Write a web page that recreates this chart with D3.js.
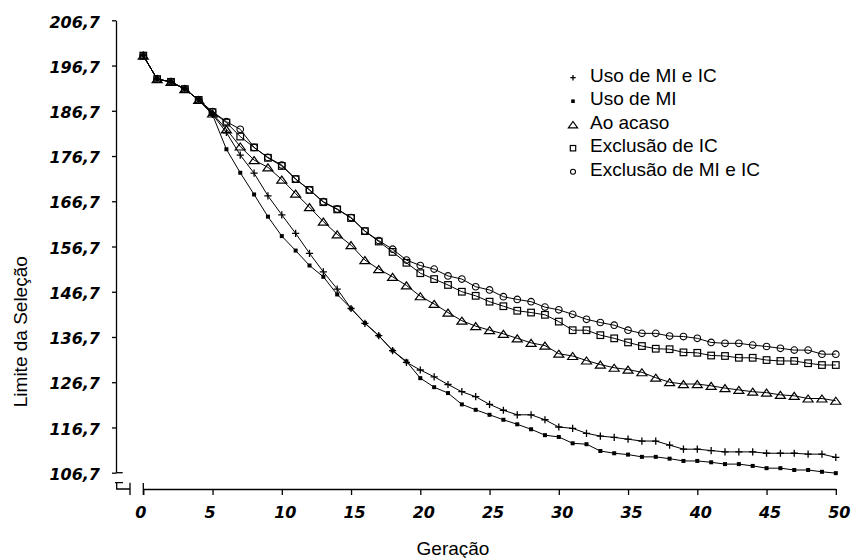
<!DOCTYPE html>
<html>
<head>
<meta charset="utf-8">
<script src="https://cdn.jsdelivr.net/npm/d3@7"></script>
<style>
  body { margin: 0; background: #fff; }
  svg { display: block; }
</style>
</head>
<body>
<div id="chart"></div>
<script>
// Generations on the x axis
const generations = d3.range(0, 51);

// Series values (Limite da Seleção per generation)
const usoMIeIC = [198.9, 193.7, 193.1, 191.5, 189.1, 185.9, 181.9, 176.9, 172.9, 167.9,
  163.7, 159.6, 155.2, 151.1, 147.3, 143.0, 139.7, 137.0, 133.7, 131.1,
  129.4, 127.9, 126.2, 124.6, 123.5, 121.8, 120.5, 119.5, 119.5, 118.4,
  116.8, 116.5, 115.4, 114.8, 114.5, 114.1, 113.7, 113.7, 112.8, 111.9,
  111.9, 111.6, 111.3, 111.3, 111.3, 111.0, 111.0, 111.0, 110.8, 110.8, 110.1];

const usoMI = [198.9, 193.7, 193.1, 191.5, 189.1, 185.8, 178.2, 173.0, 168.2, 163.3,
  159.0, 155.8, 152.5, 150.0, 146.1, 143.0, 139.8, 137.0, 133.7, 131.3,
  127.6, 125.6, 124.3, 121.8, 120.6, 119.5, 118.4, 117.4, 116.3, 115.0,
  114.6, 113.2, 113.0, 111.5, 111.0, 110.7, 110.2, 110.2, 109.8, 109.3,
  109.3, 109.0, 108.6, 108.6, 108.2, 107.7, 107.7, 107.3, 107.3, 106.9, 106.6];

const aoAcaso = [198.9, 193.7, 193.1, 191.5, 189.1, 186.1, 182.6, 178.8, 175.8, 174.2,
  171.5, 168.4, 165.4, 162.2, 159.4, 157.0, 153.7, 151.7, 150.0, 148.1,
  145.7, 144.0, 142.1, 140.3, 139.1, 138.2, 137.4, 136.4, 135.4, 134.8,
  133.0, 132.5, 131.5, 130.6, 129.9, 129.5, 128.9, 127.7, 126.7, 126.3,
  126.3, 125.9, 125.4, 125.0, 124.6, 124.4, 123.9, 123.7, 123.1, 123.1, 122.6];

const exclusaoIC = [198.9, 193.7, 193.1, 191.5, 189.1, 186.4, 184.1, 181.0, 178.6, 176.3,
  174.5, 171.6, 169.2, 166.5, 164.9, 163.0, 160.1, 157.8, 155.5, 153.1,
  150.8, 149.5, 148.2, 146.7, 145.8, 144.5, 143.5, 142.5, 142.1, 141.6,
  140.1, 138.2, 138.2, 137.1, 136.4, 135.5, 134.7, 134.1, 134.0, 133.3,
  133.2, 132.6, 132.5, 132.1, 132.1, 131.6, 131.4, 131.4, 130.9, 130.5, 130.5];

const exclusaoMIeIC = [198.9, 193.7, 193.1, 191.5, 189.1, 186.5, 184.3, 182.6, 178.6, 176.4,
  174.7, 171.6, 169.2, 166.6, 165.0, 163.1, 160.1, 158.0, 156.1, 153.7,
  152.5, 151.7, 150.2, 149.5, 147.8, 147.1, 145.6, 145.0, 144.5, 143.3,
  142.7, 141.7, 140.6, 139.9, 139.3, 138.2, 137.5, 137.5, 136.9, 136.8,
  136.4, 135.5, 135.3, 135.3, 134.9, 134.6, 134.2, 133.8, 133.8, 132.9, 132.9];

const seriesNames = ['Uso de MI e IC', 'Uso de MI', 'Ao acaso', 'Exclusão de IC', 'Exclusão de MI e IC'];
const seriesValues = [usoMIeIC, usoMI, aoAcaso, exclusaoIC, exclusaoMIeIC];
const markerTypes = ['plus', 'dot', 'triangle', 'square', 'circle'];

// Tick labels
const xTicks = [0, 5, 10, 15, 20, 25, 30, 35, 40, 45, 50];
const yTicks = [106.7, 116.7, 126.7, 136.7, 146.7, 156.7, 166.7, 176.7, 186.7, 196.7, 206.7];

const width = 853;
const height = 558;
const plot = { left: 143.3, right: 835.8, top: 20.3, bottom: 472.7 };
const yAxisX = 116;
const xAxisY = 489;
const tickFont = "'DejaVu Sans', Verdana, sans-serif";
const labelFont = "'Liberation Sans', Arial, sans-serif";

const svg = d3.select('#chart')
  .append('svg')
  .attr('width', width)
  .attr('height', height)
  .style('background', '#fff');

const xscale = d3.scaleLinear().domain([0, 50]).range([plot.left, plot.right]);
const yscale = d3.scaleLinear().domain([106.7, 206.7]).range([plot.bottom, plot.top]);

// Draw one marker of a given type centred at 0,0 of group g
function drawMarker(g, type, s) {
  if (type === 'plus') {
    g.append('path')
      .attr('d', `M${-s},0H${s}M0,${-s}V${s}`)
      .attr('stroke', '#000').attr('stroke-width', 1.3).attr('fill', 'none');
  } else if (type === 'dot') {
    g.append('rect')
      .attr('x', -s / 2).attr('y', -s / 2).attr('width', s).attr('height', s)
      .attr('fill', '#000');
  } else if (type === 'triangle') {
    g.append('path')
      .attr('d', `M0,${-s * 0.7}L${s},${s * 0.7}L${-s},${s * 0.7}Z`)
      .attr('stroke', '#000').attr('stroke-width', 1.2).attr('fill', 'none');
  } else if (type === 'square') {
    g.append('rect')
      .attr('x', -s).attr('y', -s).attr('width', 2 * s).attr('height', 2 * s)
      .attr('stroke', '#000').attr('stroke-width', 1.2).attr('fill', 'none');
  } else {
    g.append('circle')
      .attr('r', s)
      .attr('stroke', '#000').attr('stroke-width', 1.1).attr('fill', 'none');
  }
}

const plotSizes = { plus: 3.6, dot: 4, triangle: 5, square: 3.3, circle: 3.3 };
const legendSizes = { plus: 2.7, dot: 3.6, triangle: 4.6, square: 2.7, circle: 2.5 };

// Lines first, markers on top
const line = d3.line()
  .x((d, i) => xscale(generations[i]))
  .y((d) => yscale(d));

seriesValues.forEach((values) => {
  svg.append('path')
    .datum(values)
    .attr('d', line)
    .attr('fill', 'none')
    .attr('stroke', '#000')
    .attr('stroke-width', 1);
});

seriesValues.forEach((values, si) => {
  const type = markerTypes[si];
  svg.append('g')
    .selectAll('g')
    .data(values)
    .enter()
    .append('g')
    .attr('transform', (d, i) => `translate(${xscale(generations[i])},${yscale(d)})`)
    .each(function () {
      drawMarker(d3.select(this), type, plotSizes[type]);
    });
});

// Y axis
const yAxis = d3.axisLeft(yscale)
  .tickValues(yTicks)
  .tickSize(4)
  .tickSizeOuter(0)
  .tickPadding(12)
  .tickFormat((v) => v.toFixed(1).replace('.', ','));

const yAxisG = svg.append('g')
  .attr('transform', `translate(${yAxisX},0)`)
  .call(yAxis);

yAxisG.selectAll('text')
  .attr('dy', '0.42em')
  .style('font-family', tickFont)
  .style('font-size', '16px')
  .style('font-weight', 'bold')
  .style('font-style', 'italic')
  .attr('fill', '#000');

// Bottom end of the y axis extends to the right a little
yAxisG.append('line')
  .attr('x1', 0).attr('x2', 6.7)
  .attr('y1', yscale(106.7)).attr('y2', yscale(106.7))
  .attr('stroke', '#000');

// X axis
const xAxis = d3.axisBottom(xscale)
  .tickValues(xTicks)
  .tickSize(6)
  .tickSizeOuter(0)
  .tickPadding(12);

const xAxisG = svg.append('g')
  .attr('transform', `translate(0,${xAxisY})`)
  .call(xAxis);

xAxisG.selectAll('text')
  .attr('dx', (d) => (d < 10 ? -3 : 3))
  .style('font-family', tickFont)
  .style('font-size', '16px')
  .style('font-weight', 'bold')
  .style('font-style', 'italic')
  .attr('fill', '#000');

xAxisG.selectAll('path, line').attr('stroke', '#000').attr('stroke-width', 1.3);
yAxisG.selectAll('path, line').attr('stroke', '#000').attr('stroke-width', 1.3);

// Left cap of the x axis at generation 0
xAxisG.append('line')
  .attr('x1', xscale(0)).attr('x2', xscale(0))
  .attr('y1', -6).attr('y2', 6)
  .attr('stroke', '#000').attr('stroke-width', 1.3);

// Axis break stub in the lower-left corner
svg.append('path')
  .attr('d', `M${yAxisX - 1},${xAxisY - 6.3}H${yAxisX + 7}` +
    `M${yAxisX + 0.7},${xAxisY - 6.3}V${xAxisY}H${yAxisX + 14}` +
    `M${yAxisX + 14},${xAxisY - 6.3}V${xAxisY + 6}`)
  .attr('fill', 'none')
  .attr('stroke', '#000')
  .attr('stroke-width', 1.3);

// Axis titles
svg.append('text')
  .attr('transform', 'translate(26.5,331.7) rotate(-90)')
  .attr('text-anchor', 'middle')
  .style('font-family', labelFont)
  .style('font-size', '19px')
  .text('Limite da Seleção');

svg.append('text')
  .attr('x', 453)
  .attr('y', 555)
  .attr('text-anchor', 'middle')
  .style('font-family', labelFont)
  .style('font-size', '19px')
  .text('Geração');

// Legend
const legend = svg.append('g').attr('transform', 'translate(573,81.7)');

seriesNames.forEach((name, i) => {
  const row = legend.append('g').attr('transform', `translate(0,${i * 23.5})`);
  const mark = row.append('g').attr('transform', 'translate(0,-4)');
  drawMarker(mark, markerTypes[i], legendSizes[markerTypes[i]]);
  row.append('text')
    .attr('x', 17)
    .attr('y', 0)
    .style('font-family', labelFont)
    .style('font-size', '19px')
    .text(name);
});
</script>
</body>
</html>
